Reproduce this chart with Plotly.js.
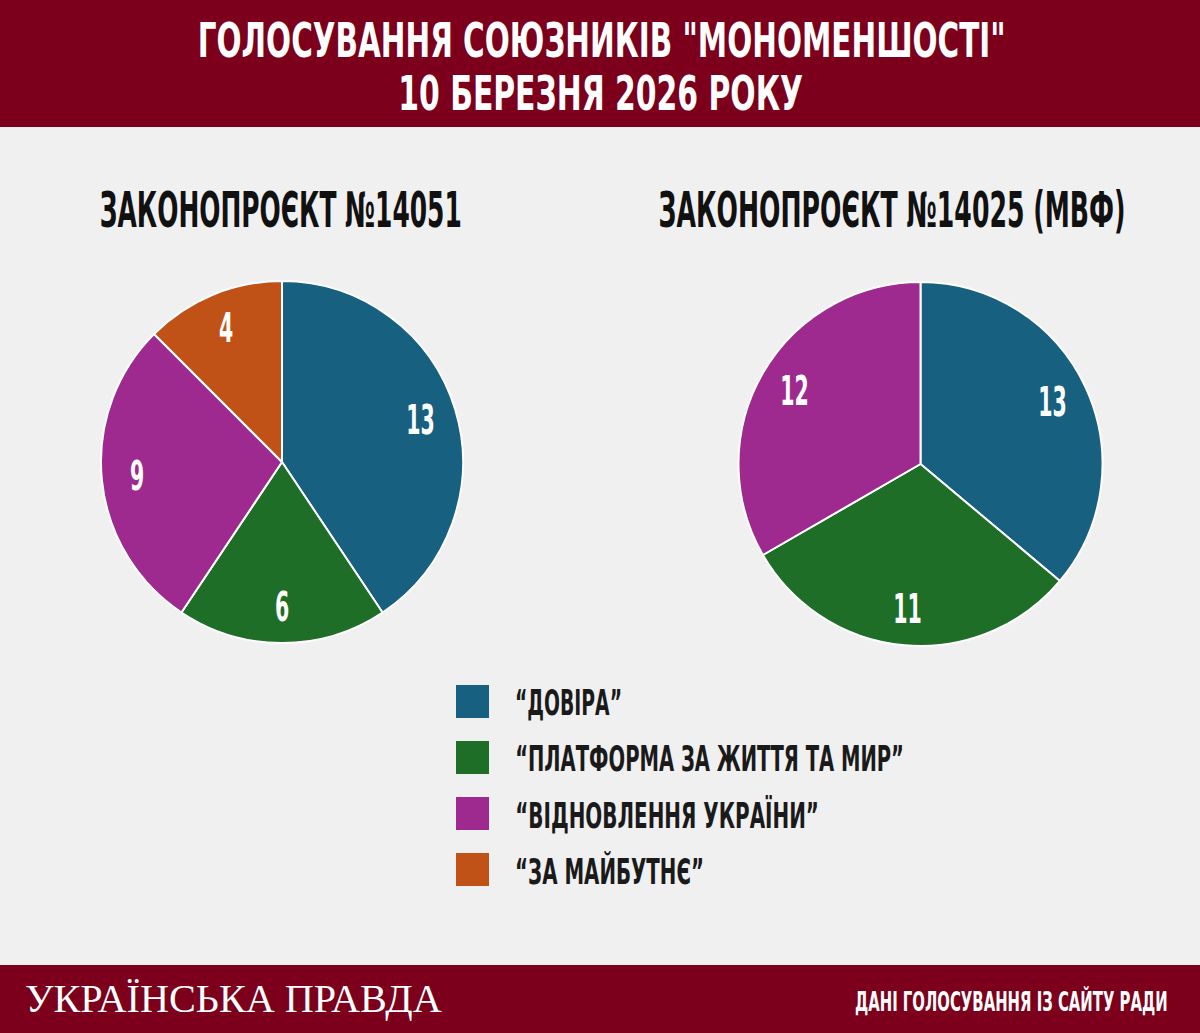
<!DOCTYPE html>
<html>
<head>
<meta charset="utf-8">
<script src="https://cdn.plot.ly/plotly-3.0.1.min.js"></script>
<style>
  html, body { margin: 0; padding: 0; background: #f0f0f0; }
  #chart { width: 1200px; height: 1033px; }
</style>
</head>
<body>
<div id="chart"></div>
<script>
// ---- data ----
const titleLines = ['ГОЛОСУВАННЯ СОЮЗНИКІВ "МОНОМЕНШОСТІ"', '10 БЕРЕЗНЯ 2026 РОКУ'];
const factions = ['“ДОВІРА”', '“ПЛАТФОРМА ЗА ЖИТТЯ ТА МИР”', '“ВІДНОВЛЕННЯ УКРАЇНИ”', '“ЗА МАЙБУТНЄ”'];
const factionColors = ['#17607f', '#1e6e27', '#9e2a8f', '#c05217'];
const bill1Title = 'ЗАКОНОПРОЄКТ №14051';
const bill1Labels = ['“ДОВІРА”', '“ПЛАТФОРМА ЗА ЖИТТЯ ТА МИР”', '“ВІДНОВЛЕННЯ УКРАЇНИ”', '“ЗА МАЙБУТНЄ”'];
const bill1Values = [13, 6, 9, 4];
const bill2Title = 'ЗАКОНОПРОЄКТ №14025 (МВФ)';
const bill2Labels = ['“ДОВІРА”', '“ПЛАТФОРМА ЗА ЖИТТЯ ТА МИР”', '“ВІДНОВЛЕННЯ УКРАЇНИ”'];
const bill2Values = [13, 11, 12];
const logoText = 'УКРАЇНСЬКА ПРАВДА';
const sourceText = 'ДАНІ ГОЛОСУВАННЯ ІЗ САЙТУ РАДИ';

// ---- styling ----
const W = 1200, H = 1033;
const COND = '"DejaVu Sans", sans-serif';
const SERIF = '"Liberation Serif", "DejaVu Serif", serif';
const RED = '#7c001c';
const px = v => v / W;          // x pixel -> paper
const py = v => 1 - v / H;      // y pixel (from top) -> paper

function colorFor(lbl) { return factionColors[factions.indexOf(lbl)]; }

function pieSlices(labels, values, cx, cy, r) {
  return {
    type: 'pie', labels: labels, values: values, sort: false,
    direction: 'clockwise', rotation: 0,
    domain: { x: [px(cx - r), px(cx + r)], y: [py(cy + r), py(cy - r)] },
    showlegend: false, hoverinfo: 'label+value',
    textinfo: 'none',
    marker: { colors: labels.map(colorFor), line: { color: '#ffffff', width: 2 } }
  };
}

const PIE1 = { cx: 282, cy: 462, r: 181 };
const PIE2 = { cx: 920.5, cy: 464, r: 182 };

const data = [
  pieSlices(bill1Labels, bill1Values, PIE1.cx, PIE1.cy, PIE1.r),
  pieSlices(bill2Labels, bill2Values, PIE2.cx, PIE2.cy, PIE2.r)
];

const shapes = [
  { type: 'rect', xref: 'paper', yref: 'paper', x0: 0, x1: 1, y0: py(127), y1: 1, fillcolor: RED, line: { width: 0 }, layer: 'below' },
  { type: 'rect', xref: 'paper', yref: 'paper', x0: 0, x1: 1, y0: 0, y1: py(965), fillcolor: RED, line: { width: 0 }, layer: 'below' }
];
const annotations = [];
const fitSpecs = [];   // target rendered width (px) or fixed squeeze factor, plus origin
function addText(text, x, y, anchor, font, width, k) {
  annotations.push({ text: text, x: px(x), y: py(y), xref: 'paper', yref: 'paper', showarrow: false,
    xanchor: anchor, yanchor: 'middle', font: font });
  fitSpecs.push({ w: width, k: k, origin: anchor === 'left' ? 'left center' : anchor === 'right' ? 'right center' : 'center center' });
}
addText(titleLines[0], 601, 40, 'center', { family: COND, size: 48, color: '#ffffff', weight: 'bold' }, 808);
addText(titleLines[1], 600.5, 93, 'center', { family: COND, size: 48, color: '#ffffff', weight: 'bold' }, 405);
addText(bill1Title, 281, 210, 'center', { family: COND, size: 49, color: '#111111', weight: 'bold' }, 362);
addText(bill2Title, 891.5, 210, 'center', { family: COND, size: 49, color: '#111111', weight: 'bold' }, 467);
addText(logoText, 23, 998, 'left', { family: SERIF, size: 40, color: '#ffffff' }, 417);
addText(sourceText, 1170, 1001, 'right', { family: COND, size: 27, color: '#ffffff', weight: 'bold' }, 313);

// value labels placed at each slice's mid-angle, in the outer part of the pie
function valueLabels(values, pie) {
  const total = values.reduce((a, b) => a + b, 0);
  let cum = 0;
  values.forEach(v => {
    const a = (cum + v / 2) / total * 2 * Math.PI;
    cum += v;
    addText(String(v), pie.cx + 0.8 * pie.r * Math.sin(a), pie.cy - 0.8 * pie.r * Math.cos(a), 'center',
      { family: COND, size: 41, color: '#ffffff', weight: 'bold' }, null, 0.5);
  });
}
valueLabels(bill1Values, PIE1);
valueLabels(bill2Values, PIE2);

// legend built from factions / colours
const legendTextWidths = [107, 389, 304, 189];
factions.forEach((f, i) => {
  const top = 685 + i * 56;
  shapes.push({ type: 'rect', xref: 'paper', yref: 'paper', x0: px(456), x1: px(489), y0: py(top + 33), y1: py(top),
    fillcolor: factionColors[i], line: { width: 0 } });
  addText(f, 513, top + 18, 'left', { family: COND, size: 35, color: '#1a1a1a', weight: 'bold' }, legendTextWidths[i]);
});

const layout = {
  width: W, height: H,
  margin: { l: 0, r: 0, t: 0, b: 0 },
  paper_bgcolor: '#f0f0f0',
  plot_bgcolor: '#f0f0f0',
  showlegend: false,
  shapes: shapes,
  annotations: annotations
};

Plotly.newPlot('chart', data, layout, { displayModeBar: false, staticPlot: true }).then(gd => {
  // condense the heavy sans text horizontally (narrow display face look)
  gd.querySelectorAll('.annotation').forEach(g => {
    const idx = +g.getAttribute('data-index');
    const t = g.querySelector('.annotation-text');
    const spec = fitSpecs[idx];
    if (!t || !spec) return;
    let k = spec.k;
    if (spec.w) {
      const bw = t.getBBox().width;
      if (!bw) return;
      k = spec.w / bw;
    }
    t.style.transformBox = 'fill-box';
    t.style.transformOrigin = spec.origin;
    t.style.transform = 'scaleX(' + k + ')';
  });
});
</script>
</body>
</html>
